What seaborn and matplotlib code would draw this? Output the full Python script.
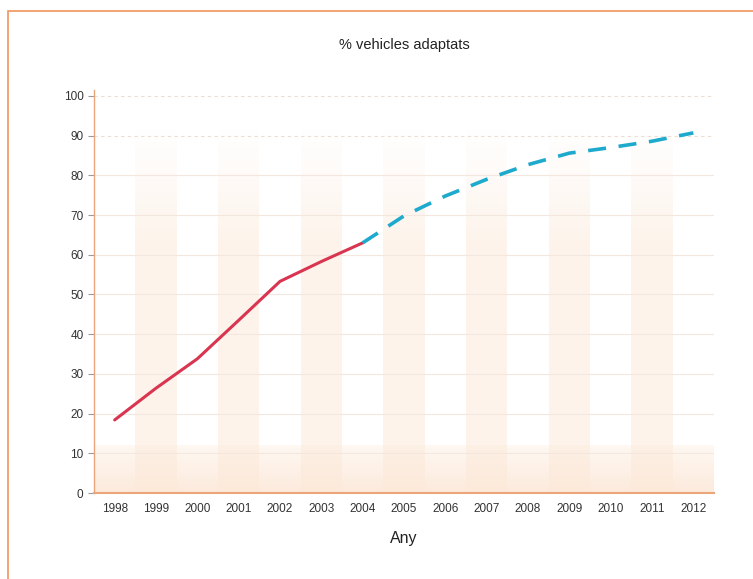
import matplotlib
matplotlib.use('Agg')
import matplotlib.pyplot as plt
import seaborn as sns
import pandas as pd
from matplotlib.patches import Rectangle

# values
years = [str(y) for y in range(1998, 2013)]
real_years = ['1998', '1999', '2000', '2001', '2002', '2003', '2004']
real_vals = [18.4, 26.4, 33.8, 43.5, 53.3, 58.3, 63.0]
proj_years = ['2004', '2005', '2006', '2007', '2008', '2009', '2010', '2011', '2012']
proj_vals = [63.0, 69.8, 74.8, 79.0, 82.7, 85.6, 87.0, 88.6, 90.7]

sns.set_style('white')
plt.rcParams['font.family'] = ['Liberation Sans', 'DejaVu Sans']

orange = '#eaa57a'
fig = plt.figure(figsize=(7.53, 5.79), dpi=100)
ax = fig.add_axes([94 / 753, 1 - 493 / 579, 620 / 753, 403 / 579])

# pale stripes on every other year, fading out towards the top
n_steps = 20
for i in range(1, len(years), 2):
    ax.axvspan(i - 0.5, i + 0.5, ymin=0, ymax=0.6, color='#fdf3ea', zorder=0, lw=0)
    for k in range(n_steps):
        lo = 0.6 + 0.3 * k / n_steps
        hi = 0.6 + 0.3 * (k + 1) / n_steps
        ax.axvspan(i - 0.5, i + 0.5, ymin=lo, ymax=hi, color='#fdf3ea',
                   alpha=1 - (k + 0.5) / n_steps, zorder=0, lw=0)
# bottom band, stronger near the axis
for k in range(n_steps):
    lo = 12 * k / n_steps
    hi = 12 * (k + 1) / n_steps
    ax.axhspan(lo, hi, color='#fce8d8', alpha=0.9 - 0.6 * k / n_steps, zorder=0, lw=0)

# horizontal grid
for v in range(10, 90, 10):
    ax.axhline(v, color='#f4e7de', lw=0.8, zorder=1)
for v in (90, 100):
    ax.axhline(v, color='#ecdcd3', lw=0.8, ls=(0, (3, 3)), zorder=1)

df_real = pd.DataFrame({'Any': pd.Categorical(real_years, categories=years), 'val': real_vals})
df_proj = pd.DataFrame({'Any': pd.Categorical(proj_years, categories=years), 'val': proj_vals})
df_real['pos'] = df_real['Any'].cat.codes
df_proj['pos'] = df_proj['Any'].cat.codes

sns.lineplot(data=df_real, x='pos', y='val', ax=ax, color='#d93450', lw=2.2, zorder=3)
sns.lineplot(data=df_proj, x='pos', y='val', ax=ax, color='#1eaacd', lw=2.6,
             zorder=3).lines[-1].set_dashes((5, 3.5))

ax.set_xlim(-0.5, len(years) - 0.5)
ax.set_ylim(0, 101.5)
ax.set_xticks(range(len(years)))
ax.set_xticklabels(years, fontsize=8.5, color='#333333')
ax.set_xticks([i + 0.5 for i in range(-1, len(years))], minor=True)
ax.tick_params(axis='x', which='major', length=0, pad=7)
ax.tick_params(axis='x', which='minor', length=4, color=orange, direction='out')
ax.set_yticks(range(0, 101, 10))
ax.set_yticklabels([str(v) for v in range(0, 101, 10)], fontsize=8.5, color='#333333')
ax.tick_params(axis='y', length=4, color='#999999', direction='out', left=True)

for s in ('top', 'right'):
    ax.spines[s].set_visible(False)
ax.spines['left'].set_color(orange)
ax.spines['bottom'].set_color(orange)
ax.spines['left'].set_linewidth(1.0)
ax.spines['bottom'].set_linewidth(1.5)

ax.set_xlabel('Any', fontsize=11.5, color='#222222', labelpad=12)
ax.set_ylabel('')
fig.text(0.5 * (94 + 714) / 753, 1 - 45 / 579, '% vehicles adaptats', ha='center', va='center',
         fontsize=10.5, color='#222222')

# orange frame around the figure
fig.patches.append(Rectangle((8 / 753, -0.05), 2, 1 - 11 / 579 + 0.05, transform=fig.transFigure,
                             fill=False, edgecolor='#f0955a', lw=1.2))

fig.savefig('out.png', dpi=100)
